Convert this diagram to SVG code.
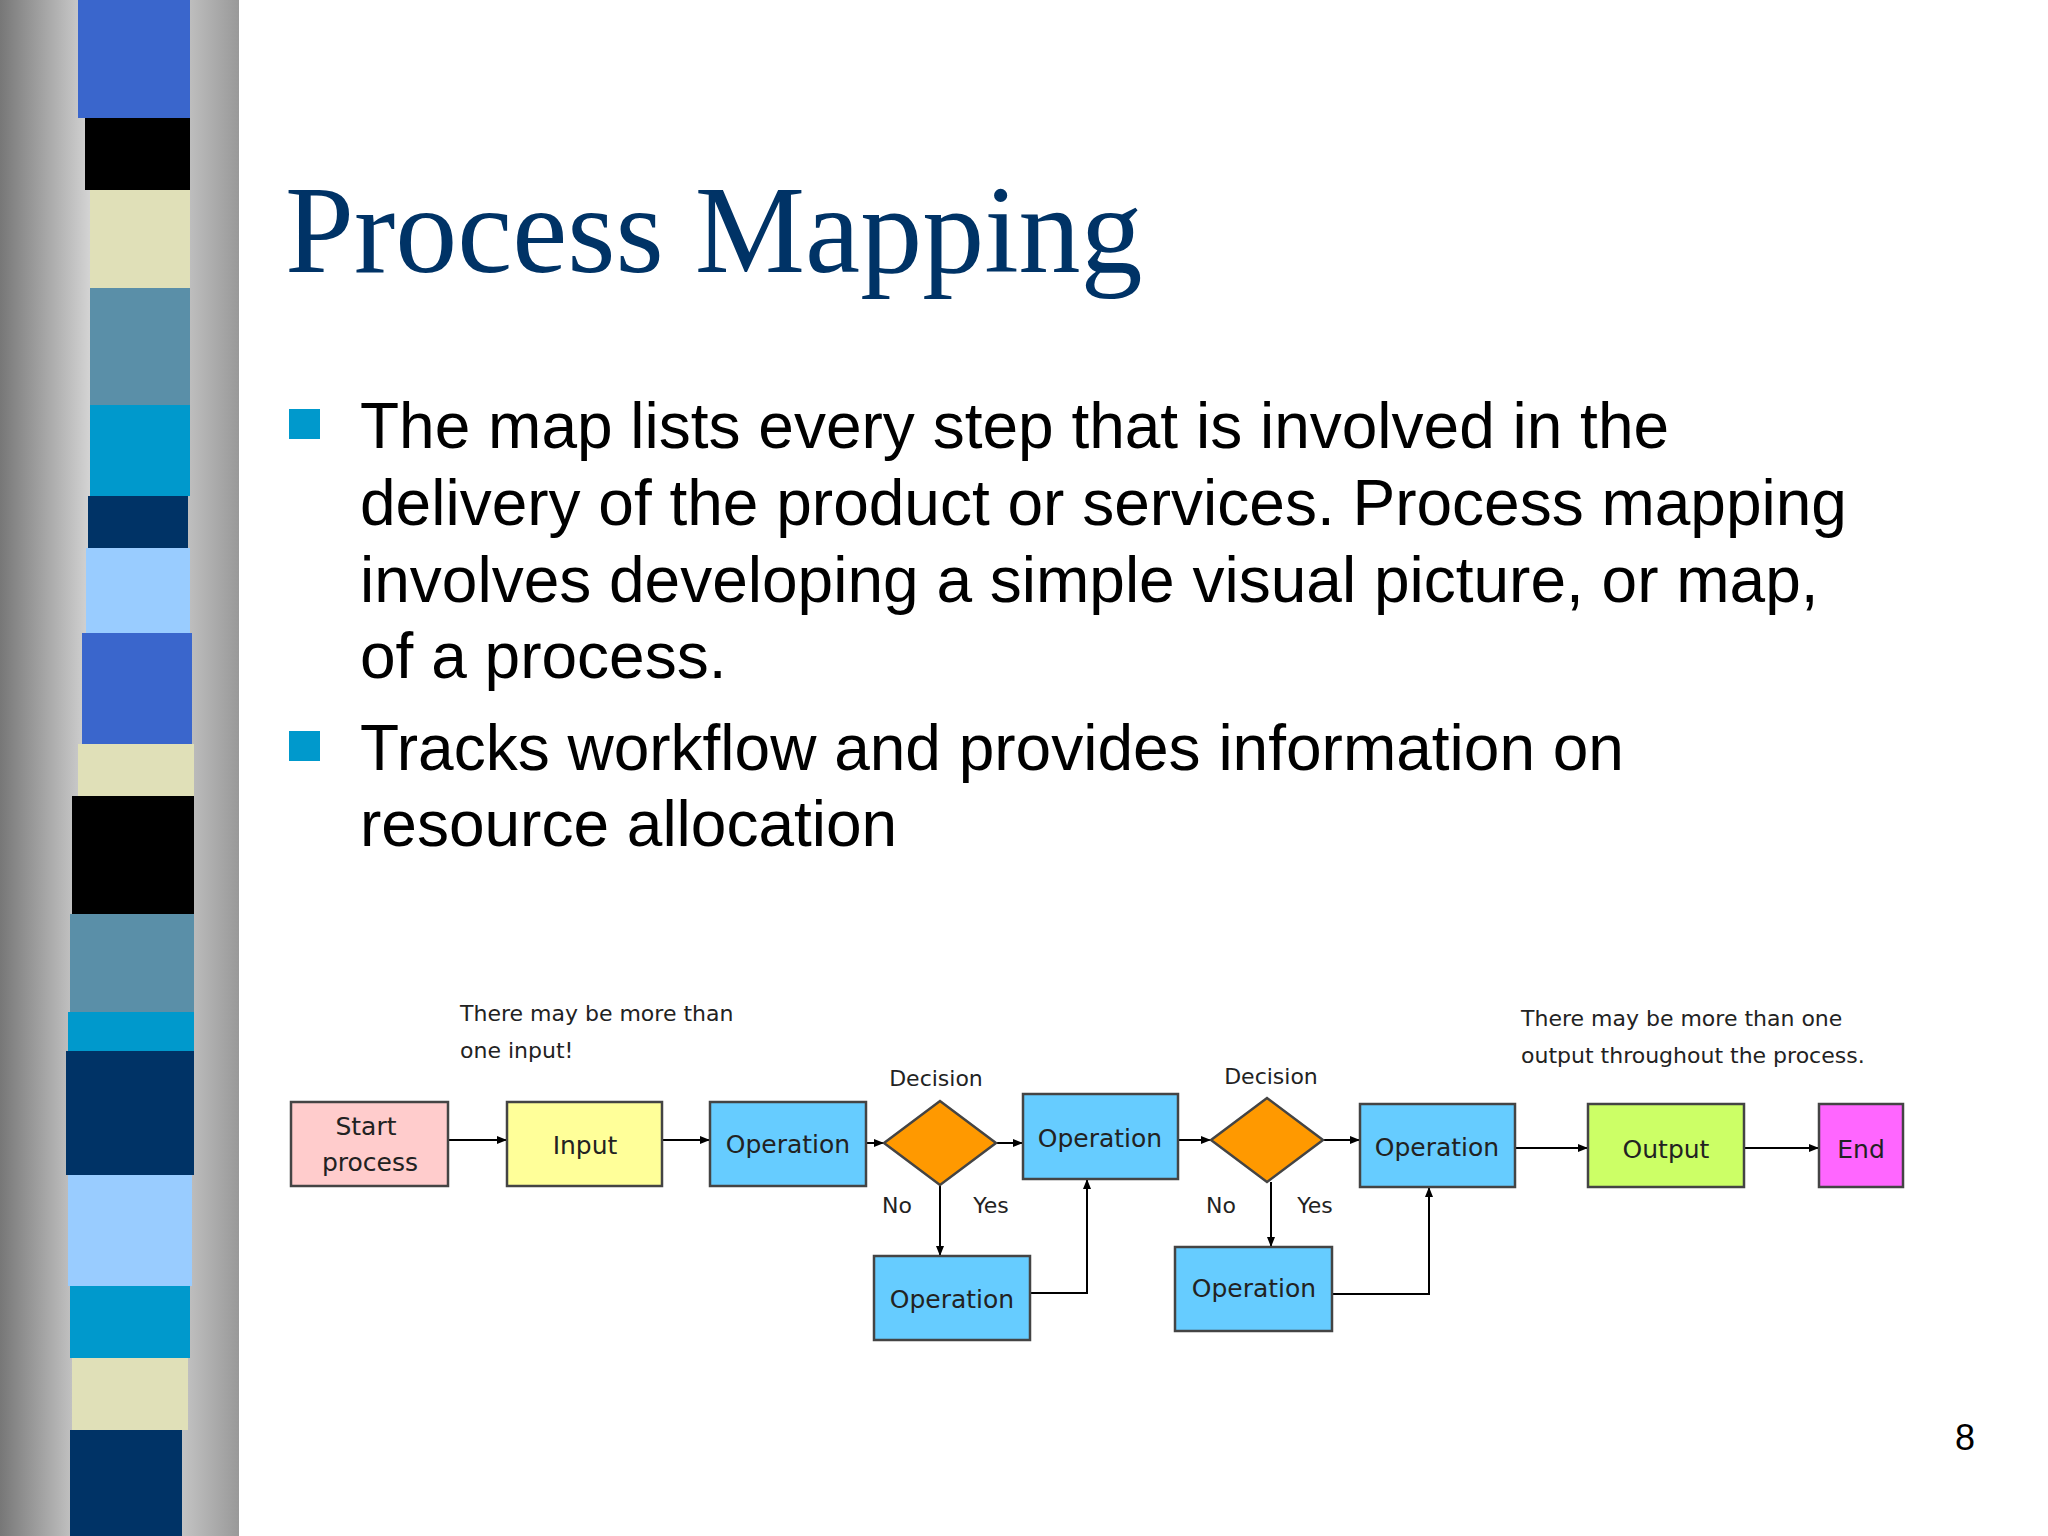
<svg xmlns="http://www.w3.org/2000/svg" width="2048" height="1536" viewBox="0 0 2048 1536">
<defs>
<linearGradient id="g1" x1="0" x2="1" y1="0" y2="0"><stop offset="0" stop-color="#777"/><stop offset="0.5" stop-color="#f2f2f2"/><stop offset="1" stop-color="#999"/></linearGradient>
<marker id="ah" viewBox="0 0 10 10" refX="10" refY="5" markerWidth="10" markerHeight="10" markerUnits="userSpaceOnUse" orient="auto"><path d="M0,1 L10,5 L0,9 z" fill="#000"/></marker>
</defs>
<style>
.b{stroke:#444;stroke-width:2.5}
.t{font-family:"DejaVu Sans",Verdana,sans-serif;font-size:25px;fill:#222;text-anchor:middle}
.s{font-family:"DejaVu Sans",Verdana,sans-serif;font-size:22px;fill:#222}
.c{fill:none;stroke:#000;stroke-width:2;marker-end:url(#ah)}
.bt{font-family:"Liberation Sans",Arial,sans-serif;font-size:64px;fill:#000}
</style>
<rect width="2048" height="1536" fill="#fff"/>
<g id="sidebar">
<rect x="0" y="0" width="239" height="1536" fill="url(#g1)"/>
<rect x="78" y="0" width="112" height="118" fill="#3a66cc"/>
<rect x="85" y="118" width="105" height="72" fill="#000"/>
<rect x="90" y="190" width="100" height="98" fill="#e0e0b8"/>
<rect x="90" y="288" width="100" height="117" fill="#5a8fa8"/>
<rect x="90" y="405" width="100" height="91" fill="#0099cc"/>
<rect x="88" y="496" width="100" height="52" fill="#003366"/>
<rect x="86" y="548" width="104" height="85" fill="#99ccff"/>
<rect x="82" y="633" width="110" height="111" fill="#3a66cc"/>
<rect x="78" y="744" width="116" height="52" fill="#e0e0b8"/>
<rect x="72" y="796" width="122" height="118" fill="#000"/>
<rect x="70" y="914" width="124" height="98" fill="#5a8fa8"/>
<rect x="68" y="1012" width="126" height="39" fill="#0099cc"/>
<rect x="66" y="1051" width="128" height="124" fill="#003366"/>
<rect x="68" y="1175" width="124" height="111" fill="#99ccff"/>
<rect x="70" y="1286" width="120" height="72" fill="#0099cc"/>
<rect x="72" y="1358" width="116" height="72" fill="#e0e0b8"/>
<rect x="70" y="1430" width="112" height="106" fill="#003366"/>
</g>
<text x="285" y="272" font-family="Liberation Serif,'Times New Roman',serif" font-size="124" fill="#003366">Process Mapping</text>
<g id="bullets">
<rect x="289" y="409" width="31" height="30" fill="#0099cc"/>
<rect x="289" y="731" width="31" height="30" fill="#0099cc"/>
<text class="bt" x="360" y="448">The map lists every step that is involved in the</text>
<text class="bt" x="360" y="525">delivery of the product or services. Process mapping</text>
<text class="bt" x="360" y="602">involves developing a simple visual picture, or map,</text>
<text class="bt" x="360" y="678">of a process.</text>
<text class="bt" x="360" y="770">Tracks workflow and provides information on</text>
<text class="bt" x="360" y="846">resource allocation</text>
</g>
<text x="1965" y="1450" font-family="Liberation Sans,Arial,sans-serif" font-size="36" fill="#000" text-anchor="middle">8</text>
<g id="connectors">
<line class="c" x1="448" y1="1140" x2="507" y2="1140"/>
<line class="c" x1="662" y1="1140" x2="710" y2="1140"/>
<line class="c" x1="866" y1="1143" x2="884" y2="1143"/>
<line class="c" x1="996" y1="1143" x2="1023" y2="1143"/>
<line class="c" x1="1178" y1="1140" x2="1211" y2="1140"/>
<line class="c" x1="1323" y1="1140" x2="1360" y2="1140"/>
<line class="c" x1="1515" y1="1148" x2="1588" y2="1148"/>
<line class="c" x1="1744" y1="1148" x2="1819" y2="1148"/>
<line class="c" x1="940" y1="1185" x2="940" y2="1256"/>
<polyline class="c" points="1030,1293 1087,1293 1087,1179"/>
<line class="c" x1="1271" y1="1182" x2="1271" y2="1247"/>
<polyline class="c" points="1332,1294 1429,1294 1429,1187"/>
</g>
<g id="start"><rect class="b" x="291" y="1102" width="157" height="84" fill="#ffcccc"/><text class="t" x="366" y="1135">Start</text><text class="t" x="370" y="1171">process</text></g>
<g id="input"><rect class="b" x="507" y="1102" width="155" height="84" fill="#ffff99"/><text class="t" x="585" y="1154" font-size="28">Input</text></g>
<g id="op1"><rect class="b" x="710" y="1102" width="156" height="84" fill="#66ccff"/><text class="t" x="788" y="1153">Operation</text></g>
<g id="d1"><polygon class="b" points="884,1143 940,1101 996,1143 940,1185" fill="#ff9900"/><text class="s" x="936" y="1086" text-anchor="middle">Decision</text><text class="s" x="897" y="1213" text-anchor="middle">No</text><text class="s" x="991" y="1213" text-anchor="middle">Yes</text></g>
<g id="op2"><rect class="b" x="1023" y="1094" width="155" height="85" fill="#66ccff"/><text class="t" x="1100" y="1147">Operation</text></g>
<g id="d2"><polygon class="b" points="1211,1140 1267,1098 1323,1140 1267,1182" fill="#ff9900"/><text class="s" x="1271" y="1084" text-anchor="middle">Decision</text><text class="s" x="1221" y="1213" text-anchor="middle">No</text><text class="s" x="1315" y="1213" text-anchor="middle">Yes</text></g>
<g id="op3"><rect class="b" x="1360" y="1104" width="155" height="83" fill="#66ccff"/><text class="t" x="1437" y="1156">Operation</text></g>
<g id="output"><rect class="b" x="1588" y="1104" width="156" height="83" fill="#ccff66"/><text class="t" x="1666" y="1158" font-size="28">Output</text></g>
<g id="end"><rect class="b" x="1819" y="1104" width="84" height="83" fill="#ff66ff"/><text class="t" x="1861" y="1158" font-size="28">End</text></g>
<g id="op4"><rect class="b" x="874" y="1256" width="156" height="84" fill="#66ccff"/><text class="t" x="952" y="1308">Operation</text></g>
<g id="op5"><rect class="b" x="1175" y="1247" width="157" height="84" fill="#66ccff"/><text class="t" x="1254" y="1297">Operation</text></g>
<g id="notes">
<text class="s" x="460" y="1021">There may be more than</text>
<text class="s" x="460" y="1058">one input!</text>
<text class="s" x="1521" y="1026">There may be more than one</text>
<text class="s" x="1521" y="1063">output throughout the process.</text>
</g>
</svg>
